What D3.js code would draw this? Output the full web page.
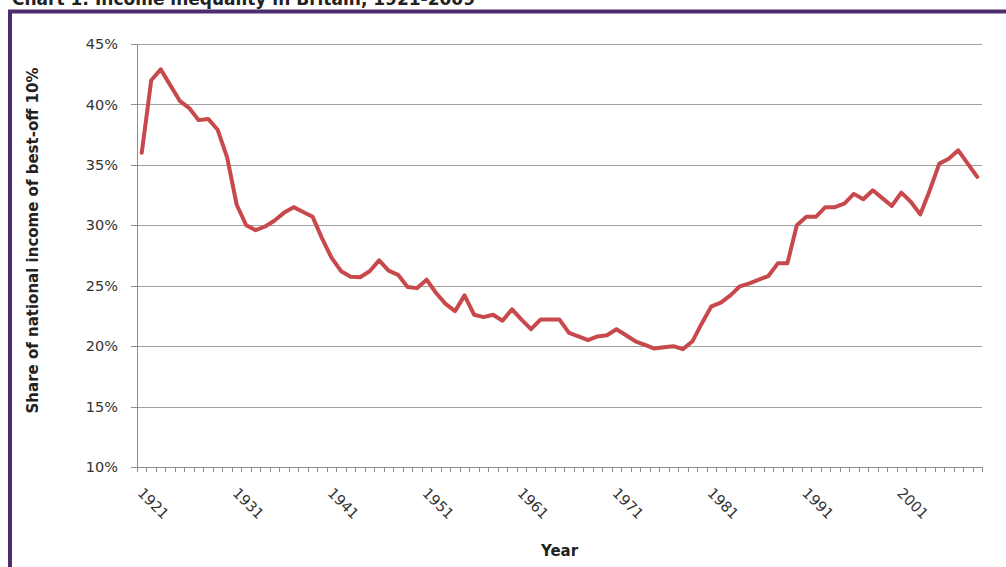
<!DOCTYPE html>
<html>
<head>
<meta charset="utf-8">
<script src="https://cdn.jsdelivr.net/npm/d3@7"></script>
<style>
    body { margin: 0; background: #fff; }
    svg { display: block; }
    .axis path, .axis line { stroke: #8c8c8c; shape-rendering: crispEdges; }
    .grid line { stroke: #a0a0a0; shape-rendering: crispEdges; }
    .grid path { display: none; }
</style>
</head>
<body>
<div id="chart"></div>
<script>
var years = [
    1921, 1922, 1923, 1924, 1925, 1926, 1927, 1928, 1929, 1930,
    1931, 1932, 1933, 1934, 1935, 1936, 1937, 1938, 1939, 1940,
    1941, 1942, 1943, 1944, 1945, 1946, 1947, 1948, 1949, 1950,
    1951, 1952, 1953, 1954, 1955, 1956, 1957, 1958, 1959, 1960,
    1961, 1962, 1963, 1964, 1965, 1966, 1967, 1968, 1969, 1970,
    1971, 1972, 1973, 1974, 1975, 1976, 1977, 1978, 1979, 1980,
    1981, 1982, 1983, 1984, 1985, 1986, 1987, 1988, 1989, 1990,
    1991, 1992, 1993, 1994, 1995, 1996, 1997, 1998, 1999, 2000,
    2001, 2002, 2003, 2004, 2005, 2006, 2007, 2008, 2009
];

// share of national income of best-off 10%, in percent
var shares = [
    36.0, 42.0, 42.9, 41.6, 40.3, 39.7, 38.7, 38.8, 37.9, 35.6,
    31.7, 30.0, 29.6, 29.9, 30.4, 31.05, 31.5, 31.1, 30.7, 28.9,
    27.3, 26.2, 25.75, 25.7, 26.2, 27.1, 26.25, 25.9, 24.9, 24.8,
    25.5, 24.4, 23.5, 22.9, 24.2, 22.6, 22.4, 22.6, 22.1, 23.05,
    22.2, 21.4, 22.2, 22.2, 22.2, 21.1, 20.8, 20.5, 20.8, 20.9,
    21.4, 20.9, 20.4, 20.1, 19.8, 19.9, 20.0, 19.75, 20.4, 21.9,
    23.3, 23.6, 24.2, 24.95, 25.2, 25.5, 25.8, 26.85, 26.85, 30.0,
    30.7, 30.7, 31.5, 31.5, 31.8, 32.6, 32.15, 32.9, 32.25, 31.6,
    32.7, 31.95, 30.9, 32.9, 35.1, 35.5, 36.2, 35.1, 34.0
];

var yTicks = [10, 15, 20, 25, 30, 35, 40, 45];
var xLabelYears = [1921, 1931, 1941, 1951, 1961, 1971, 1981, 1991, 2001];

(function () {
    var W = 1006, H = 567;
    var plot = { left: 137, right: 982, top: 44, bottom: 467 };

    var svg = d3.select("#chart").append("svg")
        .attr("width", W)
        .attr("height", H);

    // frame and (cropped) title
    svg.append("text")
        .attr("x", 12)
        .attr("y", 5)
        .attr("font-family", "DejaVu Sans")
        .attr("font-weight", "bold")
        .attr("font-size", 17)
        .attr("fill", "#222")
        .text("Chart 1: Income inequality in Britain, 1921-2009");

    svg.append("rect")
        .attr("x", 10)
        .attr("y", 11.5)
        .attr("width", W + 20)
        .attr("height", H + 20)
        .attr("fill", "none")
        .attr("stroke", "#4e2c70")
        .attr("stroke-width", 4);

    var x = d3.scaleLinear()
        .domain([years[0] - 0.5, years[years.length - 1] + 0.5])
        .range([plot.left, plot.right]);

    var y = d3.scaleLinear()
        .domain([10, 45])
        .range([plot.bottom, plot.top]);

    // gridlines
    svg.append("g")
        .attr("class", "grid")
        .attr("transform", "translate(" + plot.left + ",0)")
        .call(d3.axisLeft(y).tickValues(yTicks.slice(1)).tickSize(-(plot.right - plot.left)).tickFormat(""));

    // y axis
    var yAxis = svg.append("g")
        .attr("class", "axis")
        .attr("transform", "translate(" + plot.left + ",0)")
        .call(d3.axisLeft(y).tickValues(yTicks).tickSize(6).tickSizeOuter(0)
            .tickFormat(function (d) { return d + "%"; }));

    yAxis.selectAll("text")
        .attr("x", -19)
        .attr("font-family", "DejaVu Sans")
        .attr("font-size", 14.5)
        .attr("fill", "#333");

    // x axis: ticks at category boundaries
    var bounds = years.map(function (d) { return d - 0.5; }).concat([years[years.length - 1] + 0.5]);

    svg.append("g")
        .attr("class", "axis")
        .attr("transform", "translate(0," + plot.bottom + ")")
        .call(d3.axisBottom(x).tickValues(bounds).tickSize(5).tickSizeOuter(0).tickFormat(""));

    svg.append("g")
        .selectAll("text")
        .data(xLabelYears)
        .enter()
        .append("text")
        .attr("transform", function (d) { return "translate(" + (x(d) - 5) + ",494) rotate(45)"; })
        .attr("font-family", "DejaVu Sans")
        .attr("font-size", 14.5)
        .attr("fill", "#333")
        .text(function (d) { return d; });

    // axis titles
    svg.append("text")
        .attr("transform", "translate(38," + ((plot.top + plot.bottom) / 2 - 15) + ") rotate(-90)")
        .attr("text-anchor", "middle")
        .attr("font-family", "DejaVu Sans")
        .attr("font-weight", "bold")
        .attr("font-size", 15)
        .attr("fill", "#222")
        .text("Share of national income of best-off 10%");

    svg.append("text")
        .attr("x", (plot.left + plot.right) / 2)
        .attr("y", 556)
        .attr("text-anchor", "middle")
        .attr("font-family", "DejaVu Sans")
        .attr("font-weight", "bold")
        .attr("font-size", 15)
        .attr("fill", "#222")
        .text("Year");

    // the series
    var line = d3.line()
        .x(function (d, i) { return x(years[i]); })
        .y(function (d) { return y(d); });

    svg.append("path")
        .datum(shares)
        .attr("d", line)
        .attr("fill", "none")
        .attr("stroke", "#c8494b")
        .attr("stroke-width", 4)
        .attr("stroke-linejoin", "round")
        .attr("stroke-linecap", "round");
})();
</script>
</body>
</html>
